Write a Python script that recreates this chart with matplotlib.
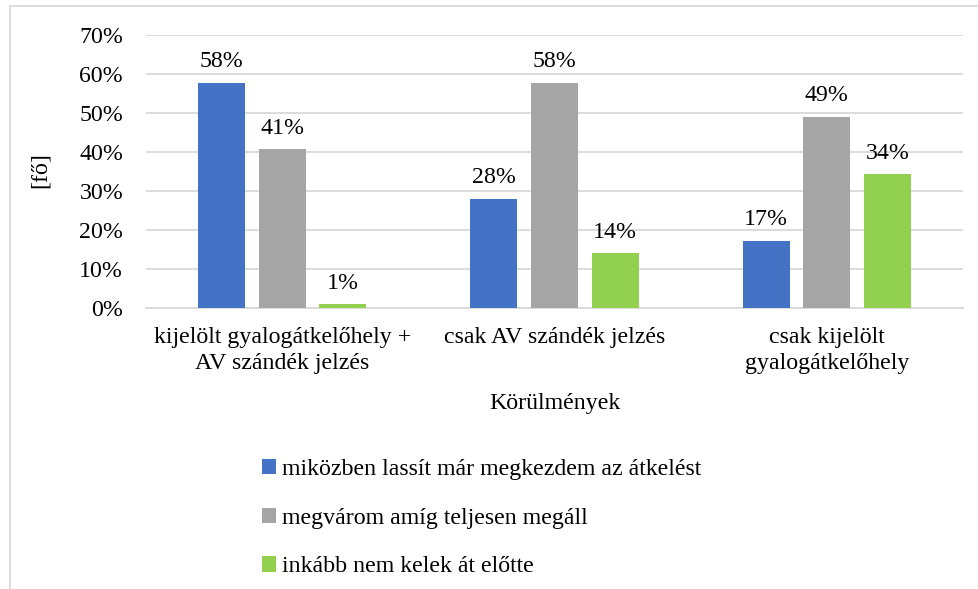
import matplotlib
matplotlib.use("Agg")
import matplotlib.pyplot as plt
import numpy as np
from matplotlib.lines import Line2D
from matplotlib.patches import Patch

plt.rcParams['font.family'] = ['Liberation Serif', 'DejaVu Serif']

categories = ["kijelölt gyalogátkelőhely +\nAV szándék jelzés",
              "csak AV szándék jelzés",
              "csak kijelölt\ngyalogátkelőhely"]
series_names = ["miközben lassít már megkezdem az átkelést",
                "megvárom amíg teljesen megáll",
                "inkább nem kelek át előtte"]
values_blue = [0.577, 0.28, 0.172]
values_gray = [0.407, 0.577, 0.49]
values_green = [0.01, 0.14, 0.343]
colors = ["#4472C4", "#A5A5A5", "#92D050"]
yticks = [0, 0.1, 0.2, 0.3, 0.4, 0.5, 0.6, 0.7]
ytick_labels = ["0%", "10%", "20%", "30%", "40%", "50%", "60%", "70%"]

FS = 17.2
W, H = 979, 589
fig = plt.figure(figsize=(W / 100, H / 100), dpi=100)
ax = fig.add_axes([146 / W, 1 - 308 / H, (963 - 146) / W, (308 - 35) / H])

x = np.arange(len(categories))
bw = 0.173
step = 0.223
series = [values_blue, values_gray, values_green]
for i, (vals, c) in enumerate(zip(series, colors)):
    pos = x + (i - 1) * step
    ax.bar(pos, vals, width=bw, color=c, zorder=3)
    for p, v in zip(pos, vals):
        ax.text(p, v + 0.027, f"{round(v*100):.0f}%", ha='center', va='bottom',
                fontsize=FS, color='#000000')

ax.set_xlim(-0.5, 2.5)
ax.set_ylim(0, 0.7)
ax.set_yticks(yticks)
ax.set_yticklabels(ytick_labels, fontsize=FS)
ax.set_xticks(x)
ax.set_xticklabels(categories, fontsize=FS, linespacing=1.3)
ax.tick_params(axis='y', length=0, pad=16.5)
ax.tick_params(axis='x', length=0, pad=14)
ax.grid(axis='y', color='#D9D9D9', linewidth=1.3, zorder=0)
for s in ['top', 'right', 'left']:
    ax.spines[s].set_visible(False)
ax.spines['bottom'].set_color('#D9D9D9')
ax.spines['bottom'].set_linewidth(1.3)

fig.text(40 / W, 1 - 170 / H, "[fő]", rotation=90, ha='center', va='center', fontsize=FS)
fig.text(555 / W, 1 - 403 / H, "Körülmények", ha='center', va='center', fontsize=FS)

handles = [Patch(facecolor=c, edgecolor='none') for c in colors]
leg = fig.legend(handles, series_names, loc='upper left',
                 bbox_to_anchor=(252 / W, 1 - 449 / H), frameon=False,
                 fontsize=FS, handlelength=0.6, handleheight=0.6,
                 handletextpad=0.25, labelspacing=1.17, borderaxespad=0)

# chart border (partially visible)
fig.add_artist(Line2D([9.5 / W, 9.5 / W], [0, 1 - 6 / H], transform=fig.transFigure,
                      color='#D9D9D9', linewidth=1.3))
fig.add_artist(Line2D([9.5 / W, 1], [1 - 6 / H, 1 - 6 / H], transform=fig.transFigure,
                      color='#D9D9D9', linewidth=1.3))

fig.savefig("out.png", dpi=100)
